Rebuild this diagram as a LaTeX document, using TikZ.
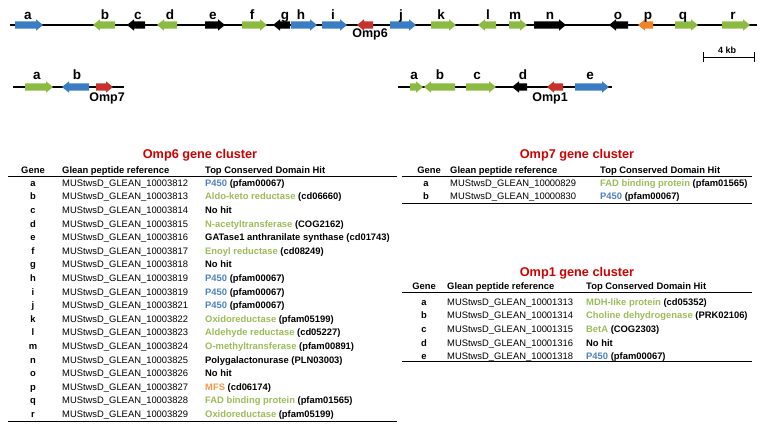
\documentclass[tikz,border=0pt]{standalone}
\usepackage{fontspec}
\setmainfont{Liberation Sans}

\definecolor{geneblue}{RGB}{58,125,196}
\definecolor{genegreen}{RGB}{141,186,67}
\definecolor{genered}{RGB}{200,50,45}
\definecolor{geneorange}{RGB}{240,130,40}
\definecolor{geneblack}{RGB}{0,0,0}
\definecolor{txtblue}{RGB}{79,129,189}
\definecolor{txtgreen}{RGB}{155,187,89}
\definecolor{txtorange}{RGB}{247,150,70}
\definecolor{titlered}{RGB}{208,0,0}

% one gene: tail x, tip x, axis y, colour
\newcommand{\genearrow}[4]{%
  \pgfmathsetmacro{\headx}{#2-7*sign(#2-#1)}
  \fill[#4] (#1,#3-3.7) -- (\headx,#3-3.7) -- (\headx,#3-5.7) -- (#2,#3)
    -- (\headx,#3+5.7) -- (\headx,#3+3.7) -- (#1,#3+3.7) -- cycle;
}
\newcommand{\glean}[1]{MUStwsD\_GLEAN\_#1}

\tikzset{
  genelabel/.style={font=\fontsize{13.5}{14}\selectfont\bfseries, anchor=base, inner sep=0pt},
  omplabel/.style={font=\fontsize{12.5}{14}\selectfont\bfseries, anchor=base, inner sep=0pt},
  tabtitle/.style={font=\fontsize{12.7}{14}\selectfont\bfseries, text=titlered, anchor=base, inner sep=0pt},
  tabhead/.style={font=\fontsize{9.4}{11}\selectfont\bfseries, anchor=base west, inner sep=0pt},
  tabgene/.style={font=\fontsize{9.4}{11}\selectfont\bfseries, anchor=base, inner sep=0pt},
  tabcell/.style={font=\fontsize{9.4}{11}\selectfont, anchor=base west, inner sep=0pt},
  tabrule/.style={line width=0.9pt},
  chromline/.style={line width=1.3pt},
}

\begin{document}
\begin{tikzpicture}[x=1pt,y=-1pt]
  \useasboundingbox (0,0) rectangle (762,425);

  % Omp6 cluster
  \draw[chromline] (10,25) -- (757,25);
  \foreach \xa/\xb/\col/\lab/\xl in {15/43/geneblue/a/28, 115/93/genegreen/b/105,
      145/127/geneblack/c/138, 177/157/genegreen/d/170, 205/225/geneblack/e/213,
      242/267/genegreen/f/252, 290/273/geneblack/g/285, 291/317/geneblue/h/301,
      322/347/geneblue/i/333, 390/416/geneblue/j/401, 431/456/genegreen/k/441,
      496/478/genegreen/l/488, 509/527/genegreen/m/515, 534/566/geneblack/n/550,
      628/609/geneblack/o/618, 653/638/geneorange/p/648, 675/698/genegreen/q/683,
      722/750/genegreen/r/733} {
    \genearrow{\xa}{\xb}{25}{\col}
    \node[genelabel] (omp6-\lab) at (\xl,20) {\lab};
  }
  \genearrow{373}{357}{25}{genered}
  \node[omplabel] (omp6) at (370,38) {Omp6};

  % scale bar
  \coordinate (bar-l) at (703,57);
  \coordinate (bar-r) at (754,57);
  \draw[line width=0.8pt] (bar-l) -- (bar-r);
  \draw[line width=0.8pt] ([yshift=5pt]bar-l) -- ([yshift=-5pt]bar-l);
  \draw[line width=0.8pt] ([yshift=5pt]bar-r) -- ([yshift=-5pt]bar-r);
  \node[font=\fontsize{9}{10}\selectfont\bfseries, anchor=base, inner sep=0pt] (bar) at (727,54) {4 kb};

  % Omp7 cluster
  \draw[chromline] (13,87) -- (124,87);
  \genearrow{25}{53}{87}{genegreen}
  \genearrow{89}{62}{87}{geneblue}
  \genearrow{96}{113}{87}{genered}
  \node[genelabel] (omp7-a) at (37,80) {a};
  \node[genelabel] (omp7-b) at (77,80) {b};
  \node[omplabel] (omp7) at (107,101.5) {Omp7};

  % Omp1 cluster
  \draw[chromline] (398,87) -- (612,87);
  \genearrow{410}{423}{87}{genegreen}
  \genearrow{455}{424}{87}{genegreen}
  \genearrow{466}{496}{87}{genegreen}
  \genearrow{527}{512}{87}{geneblack}
  \genearrow{563}{547}{87}{genered}
  \genearrow{575}{609}{87}{geneblue}
  \foreach \lab/\xl in {a/414, b/440, c/477, d/523, e/590}
    \node[genelabel] (omp1-\lab) at (\xl,80) {\lab};
  \node[omplabel] (omp1) at (550,101.5) {Omp1};

  % Omp6 table
  \node[tabtitle] (t6) at (200,158.5) {Omp6 gene cluster};
  \node[tabgene] (t6-gene) at (33,173.5) {Gene};
  \node[tabhead] (t6-ref) at (62,173.5) {Glean peptide reference};
  \node[tabhead] (t6-hit) at (205,173.5) {Top Conserved Domain Hit};
  \draw[tabrule] (8,176.5) -- (397,176.5);
  \foreach \g/\num/\hit/\hcol/\code [count=\i from 0] in {
      a/10003812/P450/txtblue/{(pfam00067)},
      b/10003813/Aldo-keto reductase/txtgreen/{(cd06660)},
      c/10003814/No hit/black/{},
      d/10003815/N-acetyltransferase/txtgreen/{(COG2162)},
      e/10003816/GATase1 anthranilate synthase/black/{(cd01743)},
      f/10003817/Enoyl reductase/txtgreen/{(cd08249)},
      g/10003818/No hit/black/{},
      h/10003819/P450/txtblue/{(pfam00067)},
      i/10003819/P450/txtblue/{(pfam00067)},
      j/10003821/P450/txtblue/{(pfam00067)},
      k/10003822/Oxidoreductase/txtgreen/{(pfam05199)},
      l/10003823/Aldehyde reductase/txtgreen/{(cd05227)},
      m/10003824/O-methyltransferase/txtgreen/{(pfam00891)},
      n/10003825/Polygalactonurase/black/{(PLN03003)},
      o/10003826/No hit/black/{},
      p/10003827/MFS/txtorange/{(cd06174)},
      q/10003828/FAD binding protein/txtgreen/{(pfam01565)},
      r/10003829/Oxidoreductase/txtgreen/{(pfam05199)}} {
    \pgfmathsetmacro{\rowy}{186.2+13.6*\i}
    \node[tabgene] (t6-\g) at (33,\rowy) {\g};
    \node[tabcell] (t6-\g-ref) at (62,\rowy) {\glean{\num}};
    \node[tabhead] (t6-\g-hit) at (205,\rowy) {\textcolor{\hcol}{\hit} \code};
  }
  \draw[tabrule] (8,421.5) -- (397,421.5);

  % Omp7 table
  \node[tabtitle] (t7) at (577,158.5) {Omp7 gene cluster};
  \node[tabgene] (t7-gene) at (429,173.5) {Gene};
  \node[tabhead] (t7-ref) at (450,173.5) {Glean peptide reference};
  \node[tabhead] (t7-hit) at (600,173.5) {Top Conserved Domain Hit};
  \draw[tabrule] (402,176.5) -- (752,176.5);
  \foreach \g/\num/\hit/\hcol/\code [count=\i from 0] in {
      a/10000829/FAD binding protein/txtgreen/{(pfam01565)},
      b/10000830/P450/txtblue/{(pfam00067)}} {
    \pgfmathsetmacro{\rowy}{186.2+13.6*\i}
    \node[tabgene] (t7-\g) at (426,\rowy) {\g};
    \node[tabcell] (t7-\g-ref) at (450,\rowy) {\glean{\num}};
    \node[tabhead] (t7-\g-hit) at (600,\rowy) {\textcolor{\hcol}{\hit} \code};
  }
  \draw[tabrule] (402,203.5) -- (752,203.5);

  % Omp1 table
  \node[tabtitle] (t1) at (577,276) {Omp1 gene cluster};
  \node[tabgene] (t1-gene) at (424,289) {Gene};
  \node[tabhead] (t1-ref) at (447,289) {Glean peptide reference};
  \node[tabhead] (t1-hit) at (586,289) {Top Conserved Domain Hit};
  \draw[tabrule] (402,292) -- (752,292);
  \foreach \g/\num/\hit/\hcol/\code [count=\i from 0] in {
      a/10001313/MDH-like protein/txtgreen/{(cd05352)},
      b/10001314/Choline dehydrogenase/txtgreen/{(PRK02106)},
      c/10001315/BetA/txtgreen/{(COG2303)},
      d/10001316/No hit/black/{},
      e/10001318/P450/txtblue/{(pfam00067)}} {
    \pgfmathsetmacro{\rowy}{305.2+13.6*\i}
    \node[tabgene] (t1-\g) at (424,\rowy) {\g};
    \node[tabcell] (t1-\g-ref) at (447,\rowy) {\glean{\num}};
    \node[tabhead] (t1-\g-hit) at (586,\rowy) {\textcolor{\hcol}{\hit} \code};
  }
  \draw[tabrule] (402,361) -- (752,361);
\end{tikzpicture}
\end{document}
